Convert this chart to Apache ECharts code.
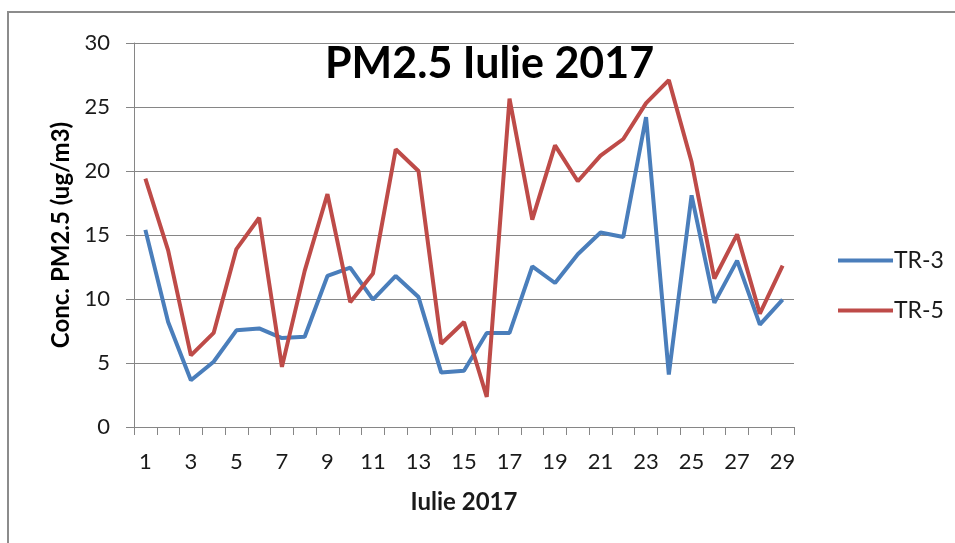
<!DOCTYPE html>
<html>
<head>
<meta charset="utf-8">
<title>PM2.5 Iulie 2017</title>
<script src="https://cdn.jsdelivr.net/npm/echarts@6/dist/echarts.min.js"></script>
<style>
  html, body { margin: 0; padding: 0; background: #fff; }
  #chart { width: 955px; height: 543px; }
</style>
</head>
<body>
<div id="chart"></div>
<script>
// zilele lunii iulie 2017
var days = ['1','2','3','4','5','6','7','8','9','10','11','12','13','14','15',
            '16','17','18','19','20','21','22','23','24','25','26','27','28','29'];
// concentratii PM2.5 (ug/m3)
var tr3 = [15.4, 8.2, 3.65, 5.1, 7.55, 7.7, 6.95, 7.05, 11.8, 12.45, 9.95, 11.8, 10.15, 4.25, 4.4,
           7.35, 7.35, 12.55, 11.25, 13.5, 15.2, 14.85, 24.2, 4.1, 18.1, 9.7, 13.0, 8.0, 9.95];
var tr5 = [19.4, 13.8, 5.6, 7.35, 13.9, 16.35, 4.7, 12.2, 18.2, 9.75, 12.0, 21.7, 20.0, 6.5, 8.2,
           2.35, 25.65, 16.2, 22.0, 19.2, 21.2, 22.5, 25.3, 27.1, 20.7, 11.6, 15.05, 8.85, 12.6];
var yTicks = [0, 5, 10, 15, 20, 25, 30];

var chart = echarts.init(document.getElementById('chart'));
var font = 'Lato, "Open Sans", sans-serif';
var axisGray = '#868686';

chart.setOption({
    animation: false,
    textStyle: { fontFamily: font },
    graphic: [{
        type: 'rect',
        shape: { x: 8, y: 12, width: 2000, height: 1000 },
        style: { fill: 'none', stroke: '#8c8c8c', lineWidth: 2 },
        silent: true
    }],
    title: {
        text: 'PM2.5 Iulie 2017',
        left: 320,
        top: 38,
        textStyle: { fontFamily: font, fontSize: 43, fontWeight: 'bold', color: '#000' }
    },
    legend: {
        orient: 'vertical',
        left: 833,
        top: 244,
        itemWidth: 55,
        itemHeight: 4,
        itemGap: 27,
        icon: 'rect',
        textStyle: { fontFamily: font, fontSize: 23, color: '#1a1a1a', padding: [0, 0, 0, -4] },
        data: ['TR-3', 'TR-5']
    },
    grid: { left: 134, right: 161, top: 43, bottom: 116 },
    xAxis: {
        type: 'category',
        data: days,
        boundaryGap: true,
        name: 'Iulie 2017',
        nameLocation: 'middle',
        nameGap: 63,
        nameTextStyle: { fontFamily: font, fontSize: 24, fontWeight: 'bold', color: '#1a1a1a' },
        axisLine: { lineStyle: { color: axisGray, width: 1 } },
        axisTick: { show: true, interval: 0, length: 8, lineStyle: { color: axisGray } },
        axisLabel: { interval: 1, margin: 24, fontSize: 22, color: '#1a1a1a', fontFamily: font },
        splitLine: { show: false }
    },
    yAxis: {
        type: 'value',
        min: 0,
        max: 30,
        interval: 5,
        name: 'Conc. PM2.5 (ug/m3)',
        nameLocation: 'middle',
        nameGap: 61,
        nameTextStyle: { fontFamily: font, fontSize: 24, fontWeight: 'bold', color: '#000' },
        axisLine: { show: true, lineStyle: { color: axisGray, width: 1 } },
        axisTick: { show: true, length: 8, lineStyle: { color: axisGray } },
        axisLabel: { margin: 24, fontSize: 22, color: '#1a1a1a', fontFamily: font,
            formatter: function (v) { return yTicks.indexOf(v) >= 0 ? String(v) : ''; } },
        splitLine: { show: true, lineStyle: { color: axisGray, width: 1 } }
    },
    series: [{
        name: 'TR-3',
        type: 'line',
        data: tr3,
        symbol: 'none',
        lineStyle: { color: '#4a7ebb', width: 4 },
        itemStyle: { color: '#4a7ebb' }
    }, {
        name: 'TR-5',
        type: 'line',
        data: tr5,
        symbol: 'none',
        lineStyle: { color: '#be4b48', width: 4 },
        itemStyle: { color: '#be4b48' }
    }]
});
</script>
</body>
</html>
